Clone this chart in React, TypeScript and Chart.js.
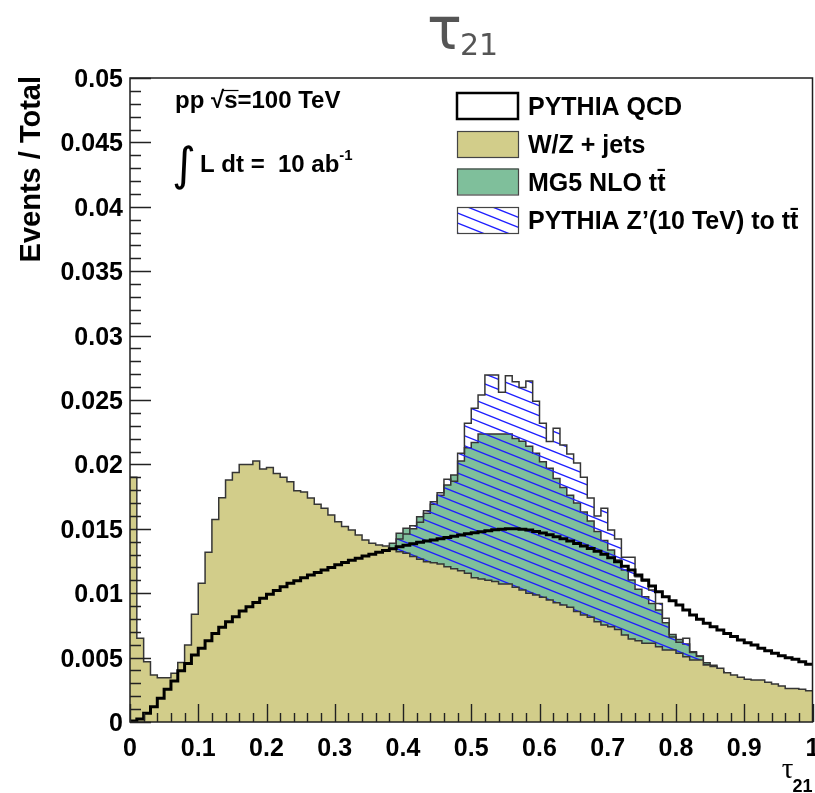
import React, { useEffect, useRef } from 'react';
import { Chart, registerables } from 'chart.js';

Chart.register(...registerables);

// ---- data: 100 bins of width 0.01 on [0, 1], values are "Events / Total" ----
const X_MIN = 0;
const X_MAX = 1;
const N_BINS = 100;

const pythiaQCD: number[] = [
  0.00008, 0.00023, 0.00067, 0.00119, 0.00184, 0.00254, 0.00318, 0.00398, 0.00455, 0.00520,
  0.00572, 0.00631, 0.00688, 0.00735, 0.00779, 0.00818, 0.00862, 0.00895, 0.00927, 0.00960,
  0.00991, 0.01020, 0.01050, 0.01077, 0.01097, 0.01120, 0.01141, 0.01160, 0.01180, 0.01200,
  0.01220, 0.01238, 0.01255, 0.01272, 0.01288, 0.01303, 0.01318, 0.01332, 0.01346, 0.01360,
  0.01372, 0.01384, 0.01395, 0.01405, 0.01414, 0.01422, 0.01432, 0.01442, 0.01452, 0.01461,
  0.01470, 0.01478, 0.01485, 0.01492, 0.01497, 0.01500, 0.01500, 0.01497, 0.01490, 0.01480,
  0.01468, 0.01454, 0.01439, 0.01423, 0.01405, 0.01386, 0.01367, 0.01347, 0.01325, 0.01302,
  0.01276, 0.01245, 0.01210, 0.01180, 0.01141, 0.01102, 0.01056, 0.01012, 0.00973, 0.00942,
  0.00908, 0.00870, 0.00831, 0.00797, 0.00766, 0.00740, 0.00714, 0.00688, 0.00663, 0.00637,
  0.00616, 0.00598, 0.00572, 0.00554, 0.00533, 0.00515, 0.00499, 0.00487, 0.00468, 0.00448,
];

const wzJets: number[] = [
  0.01900, 0.00650, 0.00468, 0.00365, 0.00344, 0.00344, 0.00378, 0.00461, 0.00598, 0.00836,
  0.01077, 0.01317, 0.01573, 0.01742, 0.01879, 0.01938, 0.02000, 0.02000, 0.02026, 0.01964,
  0.01975, 0.01930, 0.01900, 0.01866, 0.01796, 0.01785, 0.01740, 0.01690, 0.01659, 0.01607,
  0.01555, 0.01517, 0.01490, 0.01452, 0.01413, 0.01387, 0.01374, 0.01366, 0.01348, 0.01322,
  0.01310, 0.01284, 0.01263, 0.01245, 0.01237, 0.01227, 0.01206, 0.01190, 0.01175, 0.01154,
  0.01120, 0.01110, 0.01100, 0.01090, 0.01071, 0.01071, 0.01046, 0.01025, 0.00999, 0.00986,
  0.00968, 0.00947, 0.00926, 0.00908, 0.00890, 0.00857, 0.00831, 0.00813, 0.00779, 0.00753,
  0.00740, 0.00719, 0.00675, 0.00645, 0.00630, 0.00611, 0.00611, 0.00585, 0.00559, 0.00559,
  0.00533, 0.00507, 0.00481, 0.00481, 0.00443, 0.00430, 0.00417, 0.00383, 0.00365, 0.00347,
  0.00331, 0.00326, 0.00326, 0.00308, 0.00295, 0.00280, 0.00261, 0.00261, 0.00254, 0.00243,
];

const mg5TTbar: number[] = [
  0.00000, 0.00002, 0.00005, 0.00010, 0.00020, 0.00030, 0.00045, 0.00060, 0.00080, 0.00100,
  0.00130, 0.00160, 0.00190, 0.00220, 0.00260, 0.00300, 0.00340, 0.00380, 0.00420, 0.00460,
  0.00500, 0.00540, 0.00580, 0.00620, 0.00660, 0.00700, 0.00750, 0.00800, 0.00850, 0.00900,
  0.00950, 0.01000, 0.01050, 0.01100, 0.01150, 0.01200, 0.01250, 0.01300, 0.01387, 0.01465,
  0.01504, 0.01500, 0.01594, 0.01620, 0.01690, 0.01760, 0.01840, 0.01918, 0.02026, 0.02130,
  0.02170, 0.02236, 0.02236, 0.02236, 0.02236, 0.02236, 0.02202, 0.02180, 0.02140, 0.02086,
  0.02020, 0.01970, 0.01890, 0.01820, 0.01760, 0.01700, 0.01630, 0.01560, 0.01480, 0.01410,
  0.01335, 0.01258, 0.01180, 0.01102, 0.01030, 0.00973, 0.00921, 0.00870, 0.00770, 0.00680,
  0.00640, 0.00606, 0.00546, 0.00512, 0.00460, 0.00440, 0.00390, 0.00350, 0.00320, 0.00290,
  0.00260, 0.00240, 0.00220, 0.00200, 0.00180, 0.00160, 0.00140, 0.00120, 0.00100, 0.00080,
];

const zPrimeTTbar: number[] = [
  0.00000, 0.00000, 0.00002, 0.00005, 0.00008, 0.00010, 0.00015, 0.00020, 0.00030, 0.00040,
  0.00050, 0.00060, 0.00080, 0.00100, 0.00120, 0.00140, 0.00170, 0.00200, 0.00230, 0.00270,
  0.00310, 0.00350, 0.00400, 0.00450, 0.00500, 0.00550, 0.00600, 0.00660, 0.00720, 0.00780,
  0.00840, 0.00900, 0.00960, 0.01020, 0.01080, 0.01140, 0.01200, 0.01250, 0.01300, 0.01420,
  0.01460, 0.01524, 0.01550, 0.01641, 0.01710, 0.01780, 0.01884, 0.01870, 0.02086, 0.02319,
  0.02435, 0.02539, 0.02694, 0.02694, 0.02560, 0.02689, 0.02642, 0.02598, 0.02648, 0.02490,
  0.02320, 0.02177, 0.02280, 0.02150, 0.02080, 0.02010, 0.01900, 0.01740, 0.01600, 0.01660,
  0.01490, 0.01420, 0.01280, 0.01280, 0.01128, 0.01095, 0.01025, 0.00920, 0.00805, 0.00660,
  0.00620, 0.00650, 0.00540, 0.00510, 0.00445, 0.00425, 0.00390, 0.00340, 0.00300, 0.00260,
  0.00220, 0.00190, 0.00160, 0.00130, 0.00110, 0.00090, 0.00070, 0.00050, 0.00035, 0.00020,
];

const xTickValues: number[] = [0, 0.1, 0.2, 0.3, 0.4, 0.5, 0.6, 0.7, 0.8, 0.9, 1];
const xTickLabels: string[] = ['0', '0.1', '0.2', '0.3', '0.4', '0.5', '0.6', '0.7', '0.8', '0.9', '1'];
const yTickValues: number[] = [0, 0.005, 0.01, 0.015, 0.02, 0.025, 0.03, 0.035, 0.04, 0.045, 0.05];
const yTickLabels: string[] = ['0', '0.005', '0.01', '0.015', '0.02', '0.025', '0.03', '0.035', '0.04', '0.045', '0.05'];
const X_MINOR_STEP = 0.02;
const Y_MINOR_STEP = 0.001;

const legendLabels: string[] = [
  'PYTHIA QCD',
  'W/Z + jets',
  'MG5 NLO t\u0074\u0304',
  'PYTHIA Z\u2019(10 TeV) to t\u0074\u0304',
];

// ---- styling ----
const SANS = '"Liberation Sans", Arial, Helvetica, sans-serif';
const KHAKI = '#d2cd8a';
const GREEN = '#7fbf9b';
const HATCH_BLUE = '#1f1fff';
const OUTLINE = '#353535';

function histPoints(values: number[]) {
  const w = (X_MAX - X_MIN) / N_BINS;
  const pts = values.map((v, i) => ({ x: X_MIN + i * w, y: v }));
  pts.push({ x: X_MAX, y: values[values.length - 1] });
  return pts;
}

function makeHatch(): CanvasPattern | string {
  const c = document.createElement('canvas');
  c.width = 50;
  c.height = 20;
  const g = c.getContext('2d');
  if (!g) return HATCH_BLUE;
  g.strokeStyle = HATCH_BLUE;
  g.lineWidth = 1.3;
  for (const dy of [-30, -20, -10, 0, 10, 20, 30]) {
    g.beginPath();
    g.moveTo(-5, dy - 2);
    g.lineTo(55, dy + 22);
    g.stroke();
  }
  return g.createPattern(c, 'repeat') || HATCH_BLUE;
}

export default function App() {
  const ref = useRef<HTMLCanvasElement | null>(null);

  useEffect(() => {
    const canvas = ref.current;
    if (!canvas) return;
    const hatch = makeHatch();

    const decor = {
      id: 'decor',
      afterDraw(chart: any) {
        const { ctx, chartArea: a } = chart;
        const xs = chart.scales.x;
        const ys = chart.scales.y;
        ctx.save();

        // frame
        ctx.strokeStyle = '#1e1e1e';
        ctx.lineWidth = 1.5;
        ctx.strokeRect(a.left, a.top, a.right - a.left, a.bottom - a.top);

        // ticks (inward, ROOT style)
        ctx.lineWidth = 1.4;
        ctx.strokeStyle = '#222';
        ctx.beginPath();
        const nyMinor = Math.round((ys.max - ys.min) / Y_MINOR_STEP);
        for (let k = 0; k <= nyMinor; k++) {
          const v = ys.min + k * Y_MINOR_STEP;
          const py = Math.round(ys.getPixelForValue(v)) + 0.5;
          const major = k % 5 === 0;
          ctx.moveTo(a.left, py);
          ctx.lineTo(a.left + (major ? 21 : 11), py);
        }
        const nxMinor = Math.round((xs.max - xs.min) / X_MINOR_STEP);
        for (let k = 0; k <= nxMinor; k++) {
          const v = xs.min + k * X_MINOR_STEP;
          const px = Math.round(xs.getPixelForValue(v)) + 0.5;
          const major = k % 5 === 0;
          ctx.moveTo(px, a.bottom);
          ctx.lineTo(px, a.bottom - (major ? 18 : 9));
        }
        ctx.stroke();

        // tick labels
        ctx.fillStyle = '#000';
        ctx.font = `bold 25px ${SANS}`;
        ctx.textBaseline = 'alphabetic';
        ctx.textAlign = 'right';
        yTickValues.forEach((v, i) => {
          ctx.fillText(yTickLabels[i], a.left - 7, ys.getPixelForValue(v) + 9);
        });
        ctx.textAlign = 'center';
        xTickValues.forEach((v, i) => {
          ctx.fillText(xTickLabels[i], xs.getPixelForValue(v), 756);
        });

        // y axis title
        ctx.save();
        ctx.translate(40, a.top - 2);
        ctx.rotate(-Math.PI / 2);
        ctx.textAlign = 'right';
        ctx.font = `bold 29px ${SANS}`;
        ctx.fillText('Events / Total', 0, 0);
        ctx.restore();

        // x axis title  tau_21
        ctx.textAlign = 'left';
        ctx.font = `29px "Liberation Serif", "DejaVu Serif", serif`;
        const tauW = ctx.measureText('\u03c4').width;
        ctx.font = `bold 18px ${SANS}`;
        const subW = ctx.measureText('21').width;
        const xtRight = a.right;
        ctx.font = `29px "Liberation Serif", "DejaVu Serif", serif`;
        ctx.fillText('\u03c4', xtRight - subW - tauW + 1, 778);
        ctx.font = `bold 18px ${SANS}`;
        ctx.fillText('21', xtRight - subW, 792);

        // chart title tau_21
        ctx.fillStyle = '#555';
        ctx.font = `58px "DejaVu Sans", sans-serif`;
        ctx.fillText('\u03c4', 427, 49);
        const tw = ctx.measureText('\u03c4').width;
        ctx.font = `30px "DejaVu Sans", sans-serif`;
        ctx.fillText('21', 427 + tw - 2, 55);

        // annotations
        ctx.fillStyle = '#000';
        ctx.font = `bold 24px ${SANS}`;
        const ann = 'pp \u221as=100 TeV';
        ctx.fillText(ann, 175, 108);
        const pre = ctx.measureText('pp \u221a').width;
        const sW = ctx.measureText('s').width;
        ctx.strokeStyle = '#000';
        ctx.lineWidth = 1.2;
        ctx.beginPath();
        ctx.moveTo(175 + pre - 2, 90.5);
        ctx.lineTo(175 + pre + sW + 1, 90.5);
        ctx.stroke();

        ctx.font = `46px "DejaVu Sans", sans-serif`;
        ctx.fillText('\u222b', 172, 180);
        ctx.font = `bold 24px ${SANS}`;
        const lumi = 'L dt =  10 ab';
        ctx.fillText(lumi, 200, 172);
        const lw = ctx.measureText(lumi).width;
        ctx.font = `bold 15px ${SANS}`;
        ctx.fillText('-1', 200 + lw, 160);

        // legend
        const boxX = 457;
        const boxW = 61;
        const boxH = 26;
        const rowsY = [93, 131, 168.5, 207];
        const textX = 528;
        rowsY.forEach((ry, i) => {
          if (i === 0) {
            ctx.fillStyle = '#fff';
            ctx.fillRect(boxX, ry, boxW, boxH);
            ctx.strokeStyle = '#000';
            ctx.lineWidth = 2.5;
            ctx.strokeRect(boxX, ry, boxW, boxH);
          } else {
            ctx.fillStyle = i === 1 ? KHAKI : i === 2 ? GREEN : (hatch as any);
            ctx.fillRect(boxX, ry, boxW, boxH);
            ctx.strokeStyle = '#444';
            ctx.lineWidth = 1.2;
            ctx.strokeRect(boxX + 0.5, ry + 0.5, boxW, boxH);
          }
          ctx.fillStyle = '#000';
          ctx.font = `bold 25px ${SANS}`;
          ctx.fillText(legendLabels[i], textX, ry + boxH / 2 + 9);
        });

        ctx.restore();
      },
    };

    const chart = new Chart(canvas, {
      type: 'line',
      data: {
        datasets: [
          {
            label: 'PYTHIA QCD',
            data: histPoints(pythiaQCD),
            stepped: 'before',
            borderColor: '#000',
            borderWidth: 3,
            fill: false,
            pointRadius: 0,
            order: 0,
          },
          {
            label: 'W/Z + jets',
            data: histPoints(wzJets),
            stepped: 'before',
            borderColor: OUTLINE,
            borderWidth: 1.5,
            backgroundColor: KHAKI,
            fill: 'origin',
            pointRadius: 0,
            order: 1,
          },
          {
            label: "PYTHIA Z'(10 TeV) to tt",
            data: histPoints(zPrimeTTbar),
            stepped: 'before',
            borderColor: OUTLINE,
            borderWidth: 1.5,
            backgroundColor: hatch as any,
            fill: 'origin',
            pointRadius: 0,
            order: 2,
          },
          {
            label: 'MG5 NLO tt',
            data: histPoints(mg5TTbar),
            stepped: 'before',
            borderColor: OUTLINE,
            borderWidth: 1.5,
            backgroundColor: GREEN,
            fill: 'origin',
            pointRadius: 0,
            order: 3,
          },
        ] as any,
      },
      options: {
        animation: false,
        responsive: false,
        devicePixelRatio: 1,
        layout: { padding: { left: 130, top: 78, right: 2.5, bottom: 71 } },
        scales: {
          x: { type: 'linear', min: X_MIN, max: X_MAX, display: false },
          y: { type: 'linear', min: 0, max: 0.05, display: false },
        },
        plugins: {
          legend: { display: false },
          tooltip: { enabled: false },
          title: { display: false },
        },
        elements: { point: { radius: 0 }, line: { tension: 0 } },
      } as any,
      plugins: [decor],
    });

    return () => chart.destroy();
  }, []);

  return (
    <div style={{ position: 'absolute', left: 0, top: 0, width: 815, height: 793, background: '#fff' }}>
      <canvas ref={ref} width={815} height={793} style={{ display: 'block' }} />
    </div>
  );
}
